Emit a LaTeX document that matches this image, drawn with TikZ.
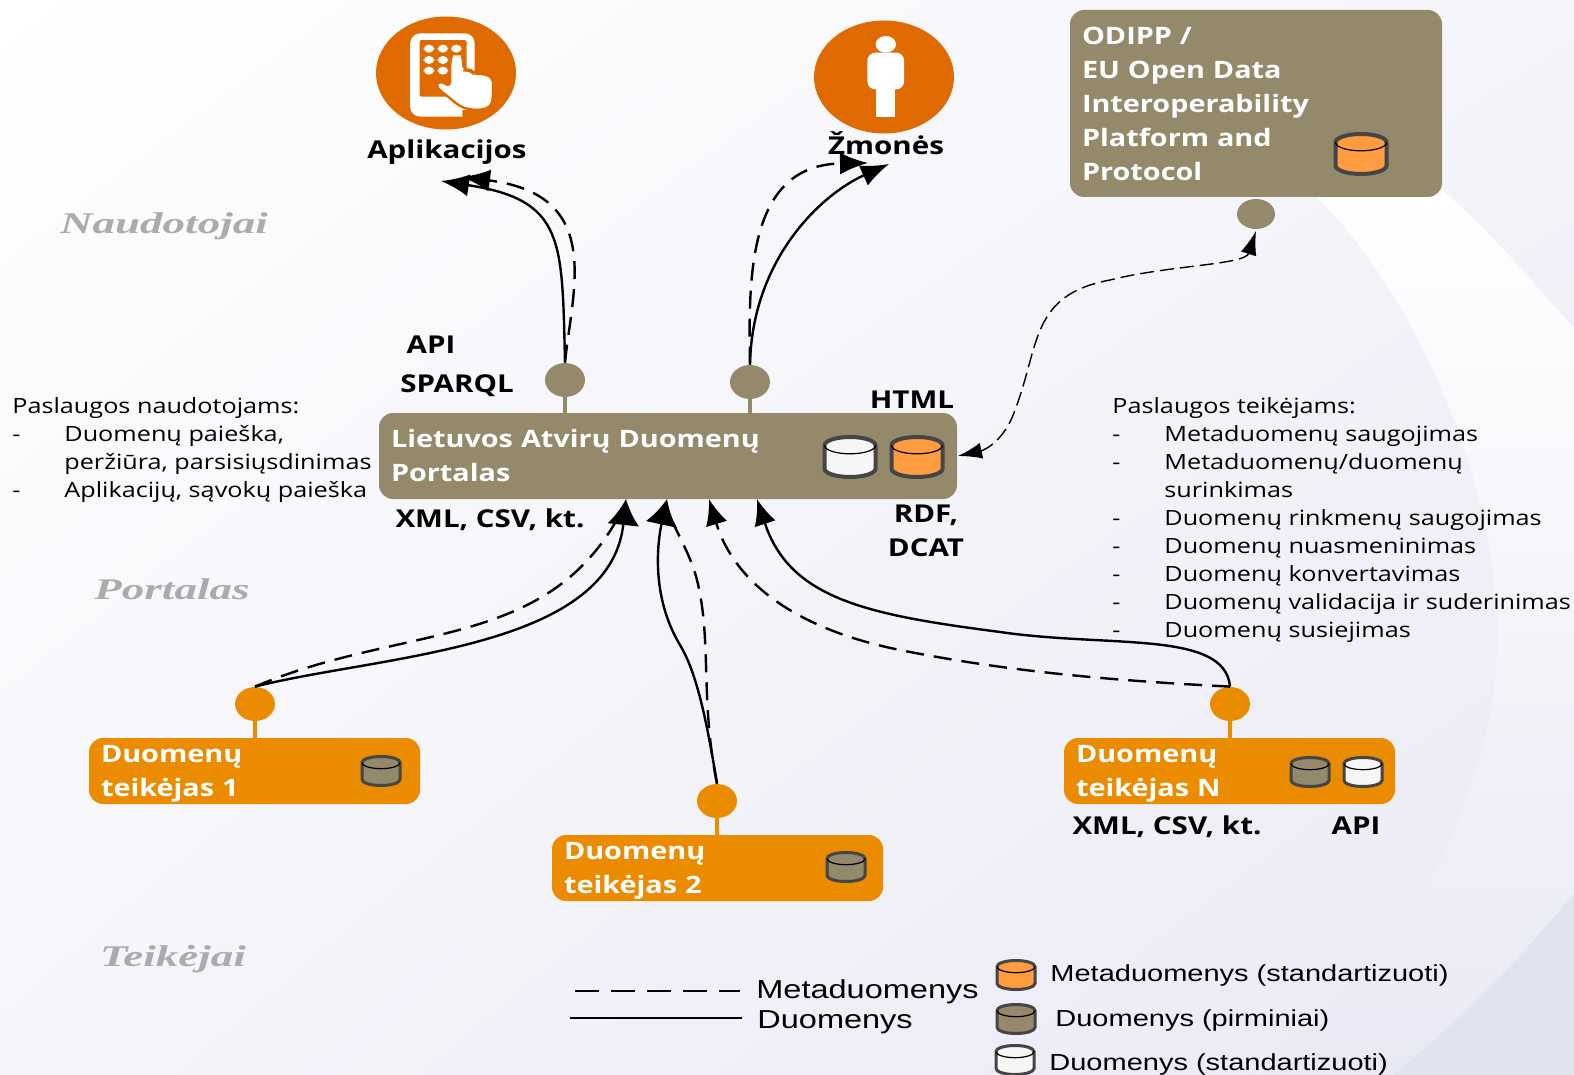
\documentclass[tikz,border=0pt]{standalone}
\usepackage{fontspec}
\setmainfont[FakeStretch=1.2]{Open Sans}
\newfontfamily\layerfont[FakeStretch=1.5]{Liberation Serif}
\newfontfamily\legendfont[FakeStretch=1.25]{Liberation Sans}
\usetikzlibrary{arrows.meta,shapes.geometric,shadings}
\definecolor{boxbrown}{HTML}{95896B}
\definecolor{boxorange}{HTML}{EB8C00}
\definecolor{iconorange}{HTML}{DE6A00}
\definecolor{dborange}{HTML}{FF9C40}
\definecolor{dbwhite}{HTML}{F6F6F6}
\definecolor{dbline}{HTML}{454545}
\definecolor{layergray}{HTML}{ABABAB}
\definecolor{bgtl}{HTML}{FFFFFF}
\definecolor{bgtr}{HTML}{F4F4FA}
\definecolor{bgbl}{HTML}{F5F5FB}
\definecolor{bgbr}{HTML}{E8E9F4}
\definecolor{bgcorner}{HTML}{E1E3F1}
\tikzset{
  portalbox/.style={draw=none,fill=boxbrown,rounded corners=7pt,text=white,font=\bfseries\fontsize{12}{17}\selectfont,align=left,inner xsep=6pt,inner ysep=0pt},
  teikbox/.style={portalbox,fill=boxorange,minimum width=165.5pt,minimum height=33pt,text width=153.5pt},
  brownport/.style={ellipse,fill=boxbrown,minimum width=20pt,minimum height=17pt,inner sep=0pt},
  orangeport/.style={brownport,fill=boxorange},
  stem/.style={line width=2pt},
  icondisc/.style={ellipse,fill=iconorange,minimum width=70pt,minimum height=56.5pt,inner sep=0pt},
  lbl/.style={font=\bfseries\fontsize{12.3}{16}\selectfont,inner sep=0pt,align=center},
  layer/.style={font=\layerfont\bfseries\itshape\fontsize{15}{16}\selectfont,text=layergray,inner sep=0pt},
  svc/.style={font=\fontsize{10.5}{14}\selectfont,align=left,anchor=north west,inner sep=0pt},
  leg/.style={font=\legendfont\fontsize{11.6}{16}\selectfont,anchor=west,inner sep=0pt},
  legbig/.style={leg,font=\legendfont\fontsize{13}{16}\selectfont},
  flowline/.style={line width=1.2pt},
  solidflow/.style={flowline,-{Latex[length=14pt,width=11pt]}},
  widehead/.style={flowline,-{Latex[length=13pt,width=16pt]}},
  slimhead/.style={flowline,-{Latex[length=13pt,width=11pt]}},
  dashes/.style={dash pattern=on 9pt off 5pt},
  bigdb/.style={x=12.75pt,y=10pt,draw=dbline,line width=2pt},
  smalldb/.style={x=9.5pt,y=7.25pt,draw=dbline,line width=1.5pt},
  pics/dbcyl/.style 2 args={code={
    \begin{scope}[#2]
    \draw[fill=#1] (-1,.58) arc[start angle=180,end angle=0,x radius=1,y radius=.42] -- (1,-.58)
      arc[start angle=360,end angle=180,x radius=1,y radius=.42] -- cycle;
    \draw[black,line width=.6pt] (-1,.58) arc[start angle=180,end angle=360,x radius=1,y radius=.42];
    \end{scope}
  }}
}
\newcommand{\svcitem}[1]{\makebox[26pt][l]{-}#1}
\newcommand{\teikname}[1]{\rule{0pt}{11.2pt}Duomenų\\teikėjas #1}
\begin{document}
\begin{tikzpicture}[x=0.5pt,y=-0.5pt]
\useasboundingbox (0,0) rectangle (1574,1075);
% background
\shade[upper left=bgtl,upper right=bgtr,lower left=bgbl,lower right=bgbr]
  (0,0) rectangle (1574,1075);
\shade[top color=white,bottom color=bgbr] (1317,197) .. controls (1410,290) and (1497,470) .. (1497,640)
  .. controls (1497,800) and (1400,960) .. (1260,1075) -- (1574,1075) -- (1574,328)
  .. controls (1530,280) and (1490,230) .. (1443,191) -- cycle;
\fill[bgcorner] (1574,893) .. controls (1520,960) and (1450,1030) .. (1393,1075) -- (1574,1075) -- cycle;
% layer titles
\node[layer] (naudotojai) at (164,226) {Naudotojai};
\node[layer] (portalas) at (172,589) {Portalas};
\node[layer] (teikejai) at (173,959) {Teikėjai};
% consumers
\node[icondisc] (appdisc) at (446,73) {};
\node[icondisc] (zmdisc) at (884,77) {};
\begin{scope}[shift={(340,0)},x=0.2041pt,y=-0.1667pt]
  \fill[white,rounded corners=5pt] (172,100) rectangle (330,350);
  \fill[iconorange,rounded corners=1pt] (195,120) rectangle (310,290);
  \foreach \bx/\by in {218/146,252/146,285/146,218/180,252/180,218/212,252/212}
    \fill[white,rounded corners=2.5pt] (\bx-13,\by-12) rectangle (\bx+13,\by+12);
  \fill[white] (252,322) ellipse (14 and 13);
  \fill[iconorange] (332,200) rectangle (345,300) (300,352) rectangle (345,330);
  \draw[iconorange,line width=1.2pt,fill=white,rounded corners=3pt,line join=round]
    (270,180) .. controls (275,162) and (298,162) .. (302,180) -- (302,212) -- (318,208) -- (328,222)
    -- (348,220) -- (375,232) -- (375,285) .. controls (370,330) and (340,330) .. (315,328)
    -- (295,320) -- (232,258) -- (245,240) -- (270,262) -- cycle;
  \fill[white] (1337,133) ellipse (25 and 25);
  \fill[white,rounded corners=4pt] (1292,158) rectangle (1382,268);
  \fill[white] (1313,260) rectangle (1360,351);
\end{scope}
\node[lbl] (aplik) at (447,152) {Aplikacijos};
\node[lbl] (zmones) at (886,143) {Žmonės};
% ODIPP
\node[portalbox,minimum width=186pt,minimum height=93.5pt,text width=174pt] (odipp) at (1256,103.5)
  {ODIPP /\\EU Open Data\\Interoperability\\Platform and\\Protocol};
\pic at (1361,154) {dbcyl={dborange}{bigdb}};
\node[brownport,minimum width=19pt,minimum height=15pt] (odport) at (1256,214) {};
% portal
\node[portalbox,minimum width=289pt,minimum height=43pt,text width=277pt] (portal) at (668,456)
  {Lietuvos Atvirų Duomenų\\Portalas\rule[-.8pt]{0pt}{0pt}};
\pic at (850,457) {dbcyl={dbwhite}{bigdb}};
\pic at (917,457) {dbcyl={dborange}{bigdb}};
\node[brownport] (apiport) at (565,380) {};
\node[brownport] (webport) at (750,382) {};
\draw[boxbrown,stem] (apiport) -- (apiport |- portal.north);
\draw[boxbrown,stem] (webport) -- (webport |- portal.north);
\node[lbl] (lblapi) at (431,345) {API};
\node[lbl] (lblsparql) at (457,386) {SPARQL};
\node[lbl] (lblhtml) at (912,400) {HTML};
\node[lbl] (lblxml) at (490,520) {XML, CSV, kt.};
\node[lbl,font=\bfseries\fontsize{12.3}{17}\selectfont] (lblrdf) at (926,531) {RDF,\\DCAT};
% providers
\node[teikbox] (teik1) at (254.5,771) {\teikname{1}};
\node[teikbox] (teik2) at (717.5,868) {\teikname{2}};
\node[teikbox] (teikN) at (1229.5,771) {\teikname{N}};
\pic at (381,771) {dbcyl={boxbrown}{smalldb}};
\pic at (846,867) {dbcyl={boxbrown}{smalldb}};
\pic at (1310,772) {dbcyl={boxbrown}{smalldb}};
\pic at (1363,772) {dbcyl={dbwhite}{smalldb}};
\node[orangeport] (port1) at (255,704) {};
\node[orangeport] (port2) at (717,801) {};
\node[orangeport] (portN) at (1230,704) {};
\draw[boxorange,stem] (port1) -- (teik1.north -| port1);
\draw[boxorange,stem] (port2) -- (teik2.north -| port2);
\draw[boxorange,stem] (portN) -- (teikN.north -| portN);
\node[lbl] (lblxmlN) at (1167,827) {XML, CSV, kt.};
\node[lbl] (lblapiN) at (1356,826) {API};
% flow ends
\coordinate (tipapp) at (441,181);
\coordinate (tipappd) at (462,177);
\coordinate (tipzm) at (889,164);
\coordinate (tipzmd) at (868,163);
\coordinate (tipt1) at (626,499);
\coordinate (tipt1d) at (615,523);
\coordinate (tipt2) at (667,499);
\coordinate (tipt2d) at (673,523);
\coordinate (tiptN) at (757,499);
\coordinate (tiptNd) at (709,499);
\coordinate (tipport) at (958,456);
\coordinate (tipod) at (1256,231);
% flows out of the portal
\draw[solidflow] (apiport.north) .. controls (562,240) and (565,200) .. (tipapp);
\draw[solidflow,dashes] (apiport.north) .. controls (572,290) and (605,195) .. (tipappd);
\draw[solidflow] (webport.north) .. controls (752,260) and (820,195) .. (tipzm);
\draw[solidflow,dashes] (webport.north) .. controls (748,270) and (750,165) .. (tipzmd);
% flows into the portal
\draw[widehead] (port1.north) .. controls (380,655) and (610,650) .. (tipt1);
\draw[flowline,dashes] (port1.north) .. controls (400,625) and (540,650) .. (tipt1d);
\draw[widehead] (port2.north) .. controls (705,710) and (695,670) .. (680,645)
  .. controls (650,595) and (658,540) .. (tipt2);
\draw[flowline,dashes] (port2.north) .. controls (700,700) and (712,640) .. (697,580)
  .. controls (692,560) and (682,542) .. (tipt2d);
\draw[slimhead] (portN.north) .. controls (1225,630) and (1110,648) .. (1000,632)
  .. controls (870,615) and (790,600) .. (tiptN);
\draw[slimhead,dashes] (portN.north) .. controls (1100,680) and (1000,670) .. (900,650)
  .. controls (800,630) and (735,585) .. (tiptNd);
\draw[line width=.7pt,dash pattern=on 7pt off 3pt,{Latex[length=12pt,width=8pt]}-{Latex[length=12pt,width=8pt]}]
  (tipport) .. controls (985,450) and (1005,440) .. (1015,410)
  .. controls (1040,345) and (1030,295) .. (1110,280)
  .. controls (1170,265) and (1245,265) .. (tipod);
% services
\node[svc] (svcnaud) at (12,397) {Paslaugos naudotojams:\\
  \svcitem{Duomenų paieška,}\\
  \hspace*{26pt}peržiūra, parsisiųsdinimas\\
  \svcitem{Aplikacijų, sąvokų paieška}};
\node[svc] (svcteik) at (1112,397) {Paslaugos teikėjams:\\
  \svcitem{Metaduomenų saugojimas}\\
  \svcitem{Metaduomenų/duomenų}\\
  \hspace*{26pt}surinkimas\\
  \svcitem{Duomenų rinkmenų saugojimas}\\
  \svcitem{Duomenų nuasmeninimas}\\
  \svcitem{Duomenų konvertavimas}\\
  \svcitem{Duomenų validacija ir suderinimas}\\
  \svcitem{Duomenų susiejimas}};
% legend
\coordinate (legd1) at (575,991);
\coordinate (legd2) at (740,991);
\coordinate (legs1) at (570,1018);
\coordinate (legs2) at (742,1018);
\draw[line width=1.2pt,dash pattern=on 12pt off 6pt] (legd1) -- (legd2);
\draw[line width=1.2pt] (legs1) -- (legs2);
\node[legbig] (legmeta) at (756,992) {Metaduomenys};
\node[legbig] (legduom) at (757,1022) {Duomenys};
\pic at (1016,975) {dbcyl={dborange}{smalldb}};
\pic at (1016,1019) {dbcyl={boxbrown}{smalldb}};
\pic at (1015,1060) {dbcyl={dbwhite}{smalldb}};
\node[leg] (legmstd) at (1050,975) {Metaduomenys (standartizuoti)};
\node[leg] (legprim) at (1055,1020) {Duomenys (pirminiai)};
\node[leg] (legdstd) at (1049,1064) {Duomenys (standartizuoti)};
\end{tikzpicture}
\end{document}
